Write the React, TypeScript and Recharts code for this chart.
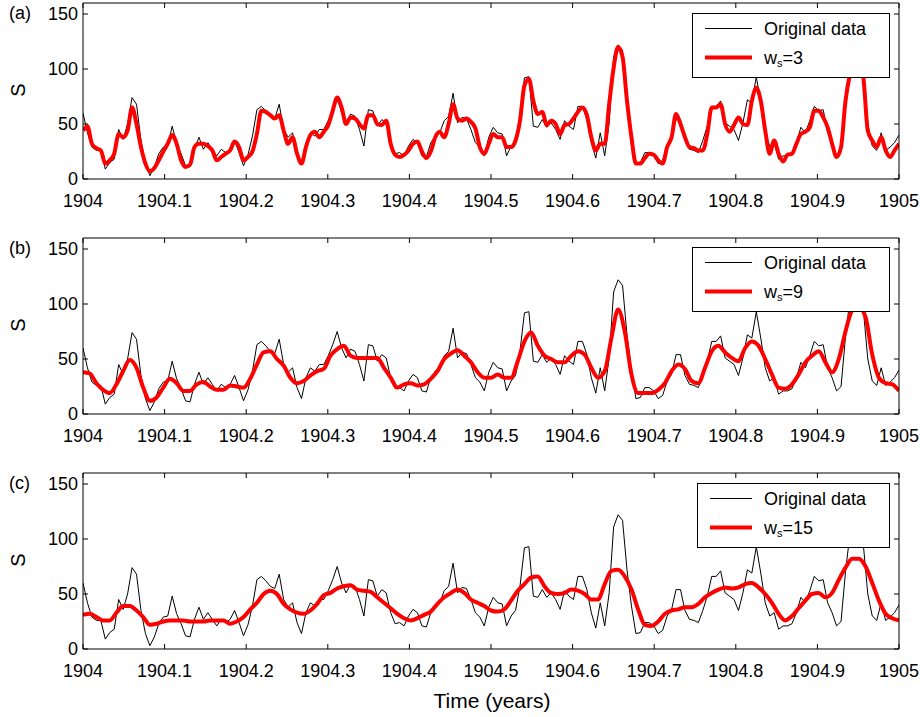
import { Legend, Line, LineChart, XAxis, YAxis } from "recharts";

const START_YEAR = 1904;
const DAYS_IN_YEAR = 366;
const FONT = '"Liberation Sans", Arial, sans-serif';

// daily sunspot number S, read every 2nd day
const originalData = [
  60, 42, 29, 26, 26, 9, 15, 18, 45, 36,
  50, 74, 68, 35, 14, 3, 11, 23, 29, 30,
  48, 32, 23, 12, 11, 27, 38, 27, 33, 27,
  21, 27, 24, 27, 35, 24, 12, 22, 39, 63,
  66, 62, 57, 55, 68, 45, 38, 42, 24, 14,
  33, 42, 39, 45, 45, 53, 63, 75, 60, 51,
  59, 57, 45, 30, 63, 62, 48, 54, 51, 33,
  23, 24, 21, 30, 36, 33, 21, 20, 33, 39,
  42, 53, 57, 78, 51, 56, 55, 45, 33, 29,
  21, 38, 47, 42, 41, 21, 30, 35, 57, 92,
  93, 48, 47, 54, 47, 51, 45, 36, 53, 48,
  45, 66, 66, 54, 33, 19, 42, 21, 51, 111,
  122, 117, 72, 39, 14, 15, 24, 24, 21, 14,
  17, 30, 36, 54, 54, 35, 27, 26, 24, 35,
  48, 66, 66, 71, 51, 48, 45, 35, 51, 72,
  69, 93, 69, 42, 30, 33, 18, 21, 21, 23,
  33, 47, 42, 53, 66, 62, 63, 42, 33, 21,
  25, 70, 105, 112, 110, 95, 50, 30, 26, 42,
  26, 29, 33, 40,
];

// smoothed, ws=3 (every 2nd day)
const smoothW3 = [
  44, 48, 32, 28, 26, 14, 17, 23, 41, 38,
  44, 65, 50, 29, 14, 7, 10, 17, 25, 32,
  40, 32, 17, 11, 13, 29, 32, 32, 30, 26,
  17, 20, 23, 26, 34, 29, 17, 20, 25, 41,
  62, 61, 58, 55, 58, 44, 32, 38, 23, 14,
  29, 40, 43, 38, 43, 49, 62, 74, 65, 50,
  56, 55, 50, 46, 58, 58, 50, 49, 53, 32,
  22, 20, 22, 26, 32, 34, 25, 19, 25, 38,
  43, 38, 50, 68, 55, 53, 55, 52, 46, 29,
  23, 32, 41, 38, 38, 29, 29, 35, 53, 85,
  91, 71, 59, 61, 49, 53, 50, 41, 49, 50,
  55, 61, 65, 58, 38, 26, 32, 32, 68, 101,
  120, 111, 71, 38, 14, 14, 19, 23, 22, 17,
  14, 29, 38, 59, 50, 38, 29, 28, 26, 26,
  41, 65, 65, 68, 50, 43, 49, 56, 50, 49,
  71, 83, 71, 44, 23, 35, 23, 16, 22, 23,
  32, 41, 43, 47, 62, 62, 56, 47, 32, 20,
  29, 71, 95, 108, 105, 92, 44, 35, 29, 38,
  26, 20, 26, 32,
];

// smoothed, ws=9 (every 3rd day)
const smoothW9 = [
  38, 37, 28, 22, 19, 27, 39, 49, 42, 24,
  12, 15, 24, 32, 28, 21, 21, 27, 29, 25,
  22, 22, 26, 25, 24, 32, 45, 56, 57, 50,
  44, 33, 28, 30, 35, 39, 41, 53, 59, 62,
  53, 51, 51, 51, 51, 42, 33, 24, 27, 28,
  26, 27, 32, 39, 50, 55, 58, 53, 47, 38,
  33, 33, 36, 33, 33, 48, 66, 74, 62, 53,
  50, 47, 47, 53, 57, 54, 42, 33, 39, 69,
  95, 75, 36, 19, 19, 19, 22, 28, 39, 45,
  41, 30, 28, 42, 57, 62, 56, 51, 48, 60,
  66, 62, 50, 36, 24, 23, 27, 36, 47, 53,
  57, 47, 38, 50, 75, 94, 97, 88, 54, 33,
  28, 27, 21,
];

// smoothed, ws=15 (every 3rd day)
const smoothW15 = [
  31, 32, 29, 26, 26, 33, 39, 39, 35, 29,
  22, 23, 25, 26, 26, 26, 25, 25, 25, 26,
  26, 26, 23, 25, 29, 36, 42, 50, 53, 50,
  41, 36, 33, 32, 35, 41, 49, 51, 55, 57,
  58, 54, 53, 52, 47, 42, 37, 32, 28, 26,
  28, 31, 34, 41, 47, 51, 54, 51, 45, 42,
  39, 35, 34, 36, 44, 53, 59, 65, 66, 57,
  51, 50, 51, 54, 53, 50, 45, 45, 59, 71,
  72, 66, 54, 36, 22, 21, 25, 32, 35, 36,
  38, 38, 41, 47, 51, 54, 56, 55, 56, 59,
  60, 56, 50, 42, 32, 26, 30, 37, 44, 50,
  51, 47, 51, 63, 74, 82, 82, 75, 60, 44,
  32, 28, 26,
];

const xTicks = [1904, 1904.1, 1904.2, 1904.3, 1904.4, 1904.5, 1904.6, 1904.7, 1904.8, 1904.9, 1905];
const yTicks = [0, 50, 100, 150];

function toPoints(values: number[], stepDays: number) {
  return values.map((s, i) => ({ t: START_YEAR + (i * stepDays) / DAYS_IN_YEAR, s }));
}

const tickStyle = { fill: "#000", fontSize: 18, fontFamily: FONT };

function LegendBox({ ws, width }: { ws: string; width: number }) {
  const lineEnd = width - 138;
  return (
    <svg width={width} height={65} style={{ display: "block" }}>
      <rect x={0.5} y={0.5} width={width - 1} height={64} fill="#fff" stroke="#000" />
      <line x1={13} x2={lineEnd} y1={15.5} y2={15.5} stroke="#000" strokeWidth={1} />
      <text x={width - 126} y={16} dominantBaseline="central" fontSize={18} fontFamily={FONT} fill="#000">
        Original data
      </text>
      <line x1={13} x2={lineEnd} y1={44.5} y2={44.5} stroke="#ff0000" strokeWidth={4} />
      <text x={width - 126} y={45} dominantBaseline="central" fontSize={18} fontFamily={FONT} fill="#000">
        w
        <tspan fontSize={11} dy={5}>s</tspan>
        <tspan dy={-5}>={ws}</tspan>
      </text>
    </svg>
  );
}

interface PanelProps {
  tag: string;
  ws: string;
  smooth: number[];
  stepDays: number;
  top: number;
  legendLeft: number;
  legendTop: number;
}

function Panel({ tag, ws, smooth, stepDays, top, legendLeft, legendTop }: PanelProps) {
  const original = toPoints(originalData, 2);
  const smoothed = toPoints(smooth, stepDays);
  const legendWidth = 890 - legendLeft;
  return (
    <div style={{ position: "absolute", left: 0, top, width: 920, height: 230 }}>
      <LineChart width={920} height={230} margin={{ top: 2, right: 20, bottom: 31, left: 0 }}>
        <XAxis
          xAxisId="b"
          dataKey="t"
          type="number"
          domain={[1904, 1905]}
          allowDataOverflow
          ticks={xTicks}
          interval={0}
          tickFormatter={(v: number) => String(v)}
          height={20}
          tickSize={-5}
          tickMargin={20}
          stroke="#000"
          tick={tickStyle}
        />
        <XAxis
          xAxisId="t"
          orientation="top"
          dataKey="t"
          type="number"
          domain={[1904, 1905]}
          allowDataOverflow
          ticks={xTicks}
          interval={0}
          tickFormatter={() => ""}
          height={1}
          tickSize={-5}
          stroke="#000"
        />
        <YAxis
          yAxisId="l"
          type="number"
          domain={[0, 160]}
          allowDataOverflow
          ticks={yTicks}
          interval={0}
          width={83}
          tickSize={-5}
          tickMargin={10}
          stroke="#000"
          tick={tickStyle}
        />
        <YAxis
          yAxisId="r"
          orientation="right"
          type="number"
          domain={[0, 160]}
          allowDataOverflow
          ticks={yTicks}
          interval={0}
          width={1}
          tickSize={-5}
          tickFormatter={() => ""}
          stroke="#000"
        />
        {/* invisible copy so the top/right frame axes get drawn */}
        <Line
          xAxisId="t"
          yAxisId="r"
          data={original}
          dataKey="s"
          stroke="none"
          dot={false}
          legendType="none"
          isAnimationActive={false}
        />
        <Line
          xAxisId="b"
          yAxisId="l"
          data={original}
          dataKey="s"
          type="linear"
          stroke="#000"
          strokeWidth={1}
          dot={false}
          isAnimationActive={false}
        />
        <Line
          xAxisId="b"
          yAxisId="l"
          data={smoothed}
          dataKey="s"
          type="monotone"
          stroke="#ff0000"
          strokeWidth={4}
          dot={false}
          isAnimationActive={false}
        />
        <Legend
          layout="horizontal"
          verticalAlign="middle"
          align="center"
          wrapperStyle={{ left: legendLeft, top: legendTop, width: legendWidth, height: 65 }}
          content={() => <LegendBox ws={ws} width={legendWidth} />}
        />
      </LineChart>
      <div
        style={{
          position: "absolute",
          left: 9,
          top: 3,
          fontSize: 18,
          fontFamily: FONT,
          lineHeight: "20px",
        }}
      >
        ({tag})
      </div>
      <div
        style={{
          position: "absolute",
          left: 8,
          top: 80,
          width: 20,
          height: 20,
          fontSize: 20,
          fontFamily: FONT,
          lineHeight: "20px",
          textAlign: "center",
          transform: "rotate(-90deg)",
        }}
      >
        S
      </div>
    </div>
  );
}

export default function App() {
  return (
    <div style={{ position: "absolute", left: 0, top: 0, width: 920, height: 717, background: "#fff" }}>
      <Panel tag="a" ws="3" smooth={smoothW3} stepDays={2} top={0} legendLeft={692} legendTop={13} />
      <Panel tag="b" ws="9" smooth={smoothW9} stepDays={3} top={235} legendLeft={692} legendTop={12} />
      <Panel tag="c" ws="15" smooth={smoothW15} stepDays={3} top={470} legendLeft={697} legendTop={13} />
      <div
        style={{
          position: "absolute",
          left: 392,
          width: 200,
          top: 689,
          textAlign: "center",
          fontSize: 21,
          fontFamily: FONT,
          lineHeight: "24px",
        }}
      >
        Time (years)
      </div>
    </div>
  );
}
